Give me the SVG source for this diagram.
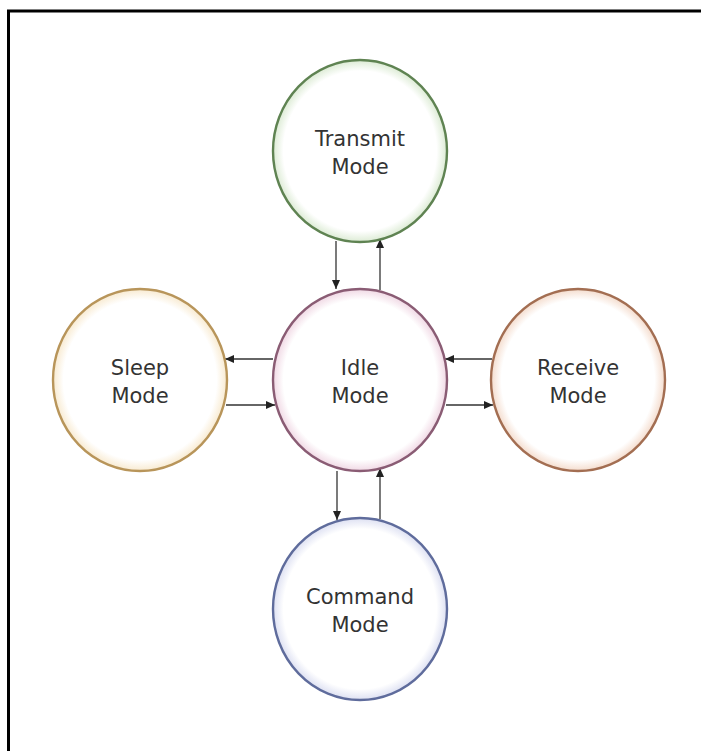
<svg xmlns="http://www.w3.org/2000/svg" width="701" height="751" viewBox="0 0 701 751">
  <style>
    .node { stroke-width: 2.4; }
    .label { font-family: "DejaVu Sans", Verdana, sans-serif; font-size: 21px; fill: #333333; text-anchor: middle; }
    .link { stroke: #333333; stroke-width: 1.3; fill: none; marker-end: url(#head); }
    .frame { stroke: #000000; stroke-width: 3; fill: none; }
  </style>
  <defs>
    <marker id="head" markerUnits="userSpaceOnUse" markerWidth="9" markerHeight="8" refX="9" refY="4" orient="auto">
      <path d="M0,0 L9,4 L0,8 z" fill="#222222"/>
    </marker>
    <radialGradient id="gGreen"><stop offset="0.88" stop-color="#ffffff"/><stop offset="1" stop-color="#dcebd4"/></radialGradient>
    <radialGradient id="gPink"><stop offset="0.88" stop-color="#ffffff"/><stop offset="1" stop-color="#f0d8e4"/></radialGradient>
    <radialGradient id="gYellow"><stop offset="0.88" stop-color="#ffffff"/><stop offset="1" stop-color="#f8ead0"/></radialGradient>
    <radialGradient id="gOrange"><stop offset="0.88" stop-color="#ffffff"/><stop offset="1" stop-color="#f4dccd"/></radialGradient>
    <radialGradient id="gBlue"><stop offset="0.88" stop-color="#ffffff"/><stop offset="1" stop-color="#dde0f2"/></radialGradient>
  </defs>

  <rect width="701" height="751" fill="#ffffff"/>
  <!-- page frame: top and left edges -->
  <path class="frame" d="M8.5,751 L8.5,11 L701,11"/>

  <g id="connectors">
    <line class="link" x1="336" y1="241" x2="336" y2="289"/>
    <line class="link" x1="380" y1="290" x2="380" y2="239"/>
    <line class="link" x1="273" y1="359" x2="225" y2="359"/>
    <line class="link" x1="226" y1="405" x2="275" y2="405"/>
    <line class="link" x1="492" y1="359" x2="445" y2="359"/>
    <line class="link" x1="446" y1="405" x2="493" y2="405"/>
    <line class="link" x1="337" y1="471" x2="337" y2="520"/>
    <line class="link" x1="380" y1="519" x2="380" y2="468"/>
  </g>

  <g id="transmit">
    <ellipse class="node" cx="360" cy="151" rx="87" ry="91" fill="url(#gGreen)" stroke="#5f8352"/>
    <text class="label" x="360" y="146">Transmit</text>
    <text class="label" x="360" y="174">Mode</text>
  </g>

  <g id="idle">
    <ellipse class="node" cx="360" cy="380" rx="87" ry="91" fill="url(#gPink)" stroke="#8a5c74"/>
    <text class="label" x="360" y="375">Idle</text>
    <text class="label" x="360" y="403">Mode</text>
  </g>

  <g id="sleep">
    <ellipse class="node" cx="140" cy="380" rx="87" ry="91" fill="url(#gYellow)" stroke="#b8955a"/>
    <text class="label" x="140" y="375">Sleep</text>
    <text class="label" x="140" y="403">Mode</text>
  </g>

  <g id="receive">
    <ellipse class="node" cx="578" cy="380" rx="87" ry="91" fill="url(#gOrange)" stroke="#a36e52"/>
    <text class="label" x="578" y="375">Receive</text>
    <text class="label" x="578" y="403">Mode</text>
  </g>

  <g id="command">
    <ellipse class="node" cx="360" cy="609" rx="87" ry="91" fill="url(#gBlue)" stroke="#5f6c9c"/>
    <text class="label" x="360" y="604">Command</text>
    <text class="label" x="360" y="632">Mode</text>
  </g>
</svg>
